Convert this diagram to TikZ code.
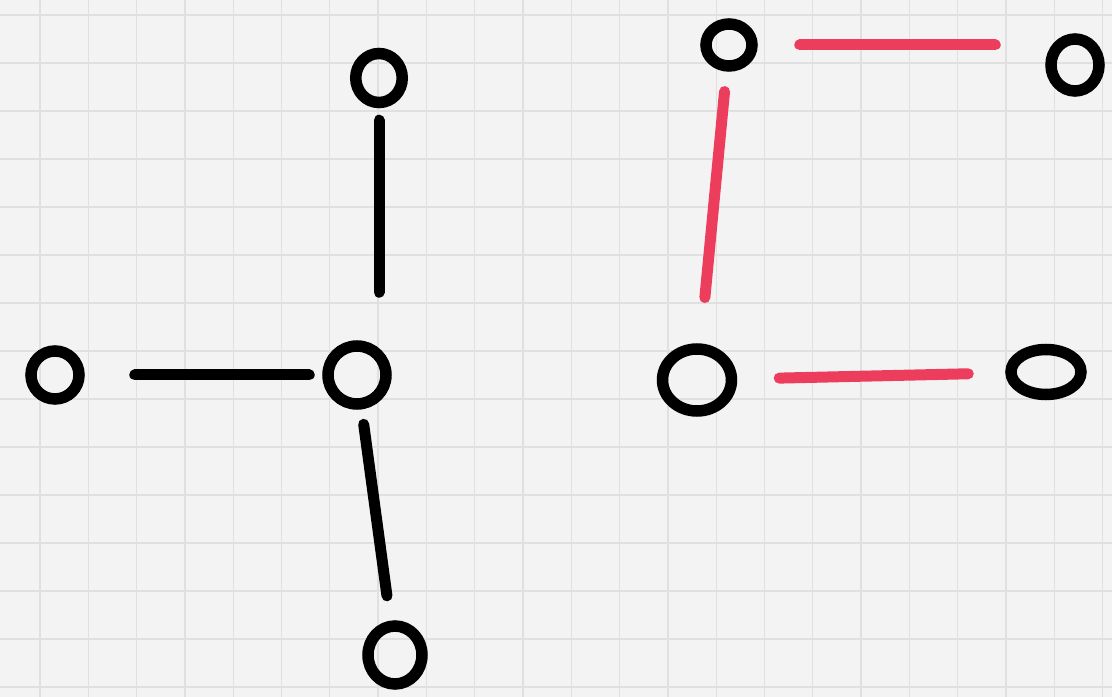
\documentclass[tikz,border=0pt]{standalone}
\usepackage{tikz}
\usetikzlibrary{shapes.geometric}
\definecolor{paperbg}{RGB}{243,243,243}
\definecolor{gridln}{RGB}{224,224,224}
\definecolor{penred}{RGB}{236,62,92}
\tikzset{
  vtx/.style={ellipse, draw=black, line width=2.3mm, inner sep=0pt,
              minimum width=#1},
  vtx/.default=10mm,
  edge/.style={draw=black, line width=2.2mm, line cap=round},
  redge/.style={edge, draw=penred},
}

\begin{document}
\begin{tikzpicture}[x=0.2mm,y=-0.2mm]
\fill[paperbg] (0,0) rectangle (1112,697);
\useasboundingbox (0,0) rectangle (1112,697);
\foreach \i in {0,...,23}{%
  \draw[gridln, line width=0.25mm] ({-8.3+48.3*\i},0) -- ({-8.3+48.3*\i},697);
}
\foreach \j in {0,...,14}{%
  \draw[gridln, line width=0.25mm] (0,{15+48*\j}) -- (1112,{15+48*\j});
}
% left graph
\node[vtx=9.3mm, minimum height=9.8mm] (t) at (379,78) {};
\node[vtx=9.6mm, minimum height=9.6mm] (l) at (55,375) {};
\node[vtx=11.6mm, minimum height=11.6mm] (c) at (357,375) {};
\node[vtx=10.8mm, minimum height=11.6mm] (b) at (395,655) {};
% right graph
\node[vtx=9.2mm, minimum height=8.4mm] (p) at (729,45) {};
\node[vtx=9.6mm, minimum height=10.4mm] (q) at (1075,65) {};
\node[vtx=13.8mm, minimum height=12.4mm] (r) at (697,380) {};
\node[vtx=14mm, minimum height=9mm] (s) at (1046,372) {};
\draw[edge, shorten <=2.4mm, shorten >=9.6mm] (t.south) -- (t.south |- c.north);
\draw[edge, shorten <=10mm, shorten >=2.6mm] (l) -- (c);
\draw[edge, shorten <=3mm, shorten >=5mm] (c) -- (b);
\draw[redge, shorten <=8.4mm, shorten >=10mm] (p.east) -- (p.east -| q.west);
\draw[redge, shorten <=4mm, shorten >=9.2mm] (p) -- (r);
\draw[redge, shorten <=8.4mm, shorten >=7.4mm] (r) -- (s);
\end{tikzpicture}
\end{document}
